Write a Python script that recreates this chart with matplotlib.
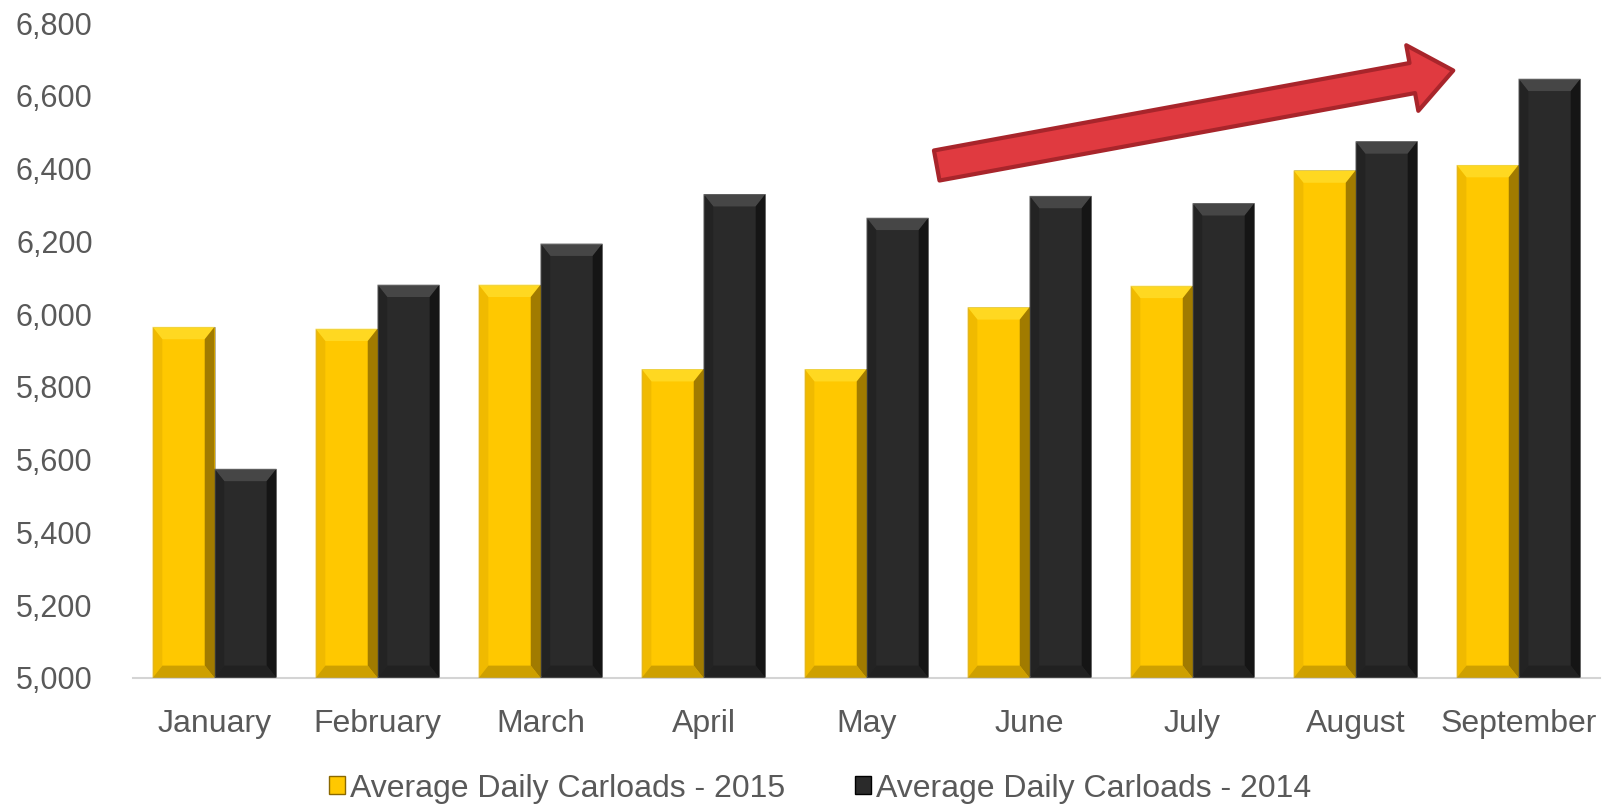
import numpy as np
import matplotlib.pyplot as plt
from matplotlib.patches import Polygon, Patch, FancyArrowPatch, ArrowStyle
from matplotlib.ticker import FuncFormatter

plt.rcParams["font.family"] = ["Liberation Sans", "DejaVu Sans"]

# Data
months = ["January", "February", "March", "April", "May", "June",
          "July", "August", "September"]
loads_2015 = [5965, 5960, 6081, 5849, 5849, 6019, 6078, 6395, 6410]
loads_2014 = [5575, 6081, 6194, 6330, 6265, 6325, 6305, 6475, 6647]
series_labels = ["Average Daily Carloads - 2015", "Average Daily Carloads - 2014"]

# Colours: main face, top facet, left facet, right facet, bottom facet
yellow = ["#FFC800", "#FFDD2A", "#EDB700", "#8A6800", "#C29600"]
black = ["#2A2A2A", "#4E4E4E", "#222222", "#101010", "#1F1F1F"]
text_col = "#595959"

fig = plt.figure(figsize=(16.18, 8.08), dpi=100)
ax = fig.add_axes([0.0822, 0.1609, 0.9067, 0.8106])

x = np.arange(len(months))
w = 0.38
ymin, ymax = 5000, 6800


def bevel_bars(xpos, vals, cols):
    bars = ax.bar(xpos, np.array(vals) - ymin, width=w, bottom=ymin,
                  color=cols[0], edgecolor="#a0a0a0", linewidth=0.5, zorder=2)
    bx, by = 0.06, 34  # bevel size in data units
    for b in bars:
        x0, y0 = b.get_x(), b.get_y()
        x1, y1 = x0 + b.get_width(), y0 + b.get_height()
        facets = [
            ([(x0, y1), (x1, y1), (x1 - bx, y1 - by), (x0 + bx, y1 - by)], cols[1]),
            ([(x0, y0), (x0 + bx, y0 + by), (x0 + bx, y1 - by), (x0, y1)], cols[2]),
            ([(x1, y0), (x1, y1), (x1 - bx, y1 - by), (x1 - bx, y0 + by)], cols[3]),
            ([(x0, y0), (x1, y0), (x1 - bx, y0 + by), (x0 + bx, y0 + by)], cols[4]),
        ]
        for pts, c in facets:
            ax.add_patch(Polygon(pts, closed=True, facecolor=c,
                                 edgecolor="none", alpha=0.8, zorder=3))
    return bars


bevel_bars(x - w / 2, loads_2015, yellow)
bevel_bars(x + w / 2, loads_2014, black)

ax.set_xlim(-0.5, len(months) - 0.5)
ax.set_ylim(ymin, ymax)
ax.set_yticks(np.arange(5000, 6801, 200))
ax.yaxis.set_major_formatter(FuncFormatter(lambda v, p: f"{int(v):,}"))
ax.set_xticks(x)
ax.set_xticklabels(months)
ax.tick_params(axis="both", length=0, labelsize=23, colors=text_col)
ax.tick_params(axis="x", pad=22)
ax.tick_params(axis="y", labelsize=22, pad=29)
for s in ["top", "right", "left"]:
    ax.spines[s].set_visible(False)
ax.spines["bottom"].set_color("#d4d4d4")
ax.spines["bottom"].set_linewidth(1.5)

# Legend
handles = [Patch(facecolor=yellow[0], edgecolor=yellow[3], linewidth=1),
           Patch(facecolor=black[0], edgecolor="#000000", linewidth=1)]
fig.legend(handles, series_labels, loc="center", bbox_to_anchor=(0.507, 0.024),
           ncol=2, frameon=False, fontsize=23, labelcolor=text_col,
           handlelength=0.5, handleheight=0.5, handletextpad=0.15,
           columnspacing=2.2)

# Red trend arrow (figure pixel fractions)
arrow = FancyArrowPatch((934 / 1618, 1 - 166 / 808), (1456 / 1618, 1 - 70 / 808),
                        transform=fig.transFigure,
                        arrowstyle=ArrowStyle("Simple", head_length=30,
                                              head_width=48, tail_width=22),
                        mutation_scale=1, facecolor="#E03A40",
                        edgecolor="#A8252B", linewidth=3, zorder=5)
fig.patches.append(arrow)

fig.savefig("out.png", dpi=100)
